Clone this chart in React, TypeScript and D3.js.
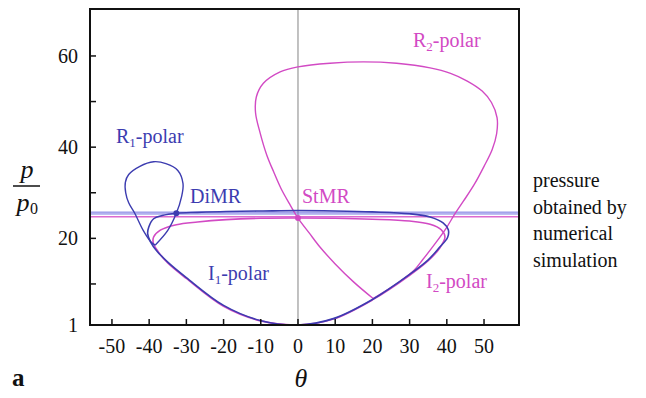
import React from 'react'
import * as d3 from 'd3'

// polar curves, [theta (deg), p/p0]
const i1Polar: [number, number][] = [
  [0, 1], [9.5, 2.4], [20, 6.6], [30, 12.1], [35, 15.3], [38, 18.0], [40.2, 20.2], [40.4, 21.9],
  [39, 23.4], [35.5, 24.7], [30, 25.4], [20, 25.8], [10, 26.0], [0, 26.1], [-10, 26.0],
  [-19.3, 25.9], [-27, 25.7], [-32.7, 25.5], [-36.5, 25.0], [-38.8, 24.3], [-40.1, 22.5],
  [-40.4, 21], [-39.6, 19.2], [-38, 17.3], [-35, 14.8], [-30, 11.4], [-20, 5.3], [-10.2, 2.0]
]

const i2Polar: [number, number][] = [
  [0, 1], [9.5, 2.3], [20, 6.5], [30, 11.9], [35, 15.1], [38.2, 18.0], [39.5, 20.3], [38.5, 21.9],
  [35.5, 23.1], [30, 23.8], [20, 24.2], [10, 24.4], [0, 24.45], [-10, 24.4], [-19.3, 24.1],
  [-27, 23.6], [-32.7, 23.0], [-37, 21.8], [-38.8, 20.3], [-38.9, 19], [-37.6, 17.1],
  [-35, 14.6], [-30, 11.2], [-20, 5.1], [-10, 1.9]
]

const r1Polar: [number, number][] = [
  [-38.4, 18.5], [-35, 21.75], [-32.7, 25.5], [-31.3, 29.1], [-30.9, 32], [-32.3, 34.9],
  [-35.5, 36.4], [-38.8, 36.8], [-42.5, 35.8], [-45.5, 34], [-46.4, 32.3], [-46.3, 30],
  [-45.5, 27.8], [-43.8, 25.4], [-41.6, 21.75], [-39.5, 19.2], [-38.4, 18.5]
]

const r2Polar: [number, number][] = [
  [20.2, 6.8], [15, 10.4], [10, 14.4], [5.9, 18.1], [3, 21.2], [0, 24.45], [-2.3, 27.6],
  [-4.6, 31], [-6.6, 34.7], [-8.4, 38.3], [-10.2, 43.2], [-11.4, 47.5], [-11.2, 51],
  [-9.3, 54], [-4.8, 56.5], [0, 57.6], [8.6, 58.4], [17.6, 58.7], [26.5, 58.4], [35.5, 57.4],
  [41, 56.2], [45.5, 54.5], [49.5, 52.3], [52, 49.8], [53.5, 46.5], [53.4, 43], [52.2, 39.5],
  [50, 35.8], [47.5, 32], [44.5, 28.2], [42.2, 25.4], [39.8, 22.2], [37, 19], [33.5, 15.3],
  [31.2, 13.0], [27, 10.3], [20.2, 6.8]
]

// numerical simulation pressure levels
const simBlue = [25.75, 25.35]
const simMagenta = [24.75]

const marks = [
  { name: 'DiMR', theta: -32.7, p: 25.5 },
  { name: 'StMR', theta: 0, p: 24.45 }
]

const xTicks = [-50, -40, -30, -20, -10, 0, 10, 20, 30, 40, 50]
const yTicks = [10, 20, 30, 40, 50, 60]
const yLabels = [1, 20, 40, 60]
const noteLines = ['pressure', 'obtained by', 'numerical', 'simulation']

const BLUE = '#3c3cb0'
const MAGENTA = '#d24ac4'
const serif = { fontFamily: 'Liberation Serif, Times New Roman, serif' }

const width = 646
const height = 398
const margin = { left: 90, right: 127, top: 9, bottom: 73 }

const App = () => {
  const x = d3.scaleLinear().domain([-55.9, 59.4]).range([margin.left, width - margin.right])
  const y = d3.scaleLinear().domain([1, 70.3]).range([height - margin.bottom, margin.top])

  const closed = d3
    .line<[number, number]>()
    .x(d => x(d[0]))
    .y(d => y(d[1]))
    .curve(d3.curveCatmullRomClosed)
  const open = d3
    .line<[number, number]>()
    .x(d => x(d[0]))
    .y(d => y(d[1]))
    .curve(d3.curveCatmullRom)

  const x0 = margin.left
  const x1 = width - margin.right
  const y0 = height - margin.bottom
  const y1 = margin.top

  return (
    <svg
      width={width}
      height={height}
      viewBox={`0,0,${width},${height}`}
      style={{ position: 'absolute', left: 0, top: 0, background: '#fff', ...serif }}
    >
      {/* theta = 0 */}
      <line x1={x(0)} x2={x(0)} y1={y1} y2={y0} stroke="#999" strokeWidth={1.2} />

      {/* simulation lines */}
      {simBlue.map((v, i) => (
        <line key={'b' + i} x1={x0} x2={x1} y1={y(v)} y2={y(v)} stroke="#7070e0" strokeWidth={1} />
      ))}
      {simMagenta.map((v, i) => (
        <line key={'m' + i} x1={x0} x2={x1} y1={y(v)} y2={y(v)} stroke="#dc6ad0" strokeWidth={1.4} />
      ))}

      <path d={closed(i2Polar) || ''} fill="none" stroke={MAGENTA} strokeWidth={1.6} />
      <path d={open(r2Polar) || ''} fill="none" stroke={MAGENTA} strokeWidth={1.4} />
      <path d={closed(i1Polar) || ''} fill="none" stroke={BLUE} strokeWidth={1.6} />
      <path d={open(r1Polar) || ''} fill="none" stroke={BLUE} strokeWidth={1.4} />

      {marks.map((m, i) => (
        <circle key={m.name} cx={x(m.theta)} cy={y(m.p)} r={3} fill={i === 0 ? BLUE : MAGENTA} />
      ))}

      {/* axes box */}
      <rect x={x0} y={y1} width={x1 - x0} height={y0 - y1} fill="none" stroke="#111" strokeWidth={2} />
      {xTicks.map(t => (
        <g key={t}>
          <line x1={x(t)} x2={x(t)} y1={y0} y2={y0 - 6} stroke="#111" strokeWidth={1.5} />
          <text x={x(t)} y={353} textAnchor="middle" fontSize={20} fill="#111" style={serif}>
            {t < 0 ? '-' + Math.abs(t) : t}
          </text>
        </g>
      ))}
      {yTicks.map(t => (
        <line key={t} x1={x0} x2={x0 + 6} y1={y(t)} y2={y(t)} stroke="#111" strokeWidth={1.5} />
      ))}
      {yLabels.map(t => (
        <text key={t} x={78} y={y(t)} dy="0.35em" textAnchor="end" fontSize={20} fill="#111" style={serif}>
          {t}
        </text>
      ))}

      {/* axis titles */}
      <text x={301} y={387} textAnchor="middle" fontSize={26} fontStyle="italic" fill="#111" style={serif}>θ</text>
      <text x={27} y={178} textAnchor="middle" fontSize={26} fontStyle="italic" fill="#111" style={serif}>p</text>
      <line x1={13} x2={40} y1={186} y2={186} stroke="#111" strokeWidth={1.5} />
      <text x={23} y={211} textAnchor="middle" fontSize={26} fontStyle="italic" fill="#111" style={serif}>p</text>
      <text x={34} y={214} textAnchor="middle" fontSize={16} fill="#111" style={serif}>0</text>
      <text x={12} y={386} fontSize={25} fontWeight="bold" fill="#111" style={serif}>a</text>

      {/* curve labels */}
      <text x={116} y={143} fontSize={20} fill={BLUE} style={serif}>
        R<tspan fontSize={13} dy={4}>1</tspan><tspan dy={-4}>-polar</tspan>
      </text>
      <text x={190} y={203} fontSize={20} fill={BLUE} style={serif}>DiMR</text>
      <text x={302} y={203} fontSize={20} fill={MAGENTA} style={serif}>StMR</text>
      <text x={208} y={280} fontSize={20} fill={BLUE} style={serif}>
        I<tspan fontSize={13} dy={4}>1</tspan><tspan dy={-4}>-polar</tspan>
      </text>
      <text x={426} y={288} fontSize={20} fill={MAGENTA} style={serif}>
        I<tspan fontSize={13} dy={4}>2</tspan><tspan dy={-4}>-polar</tspan>
      </text>
      <text x={413} y={47} fontSize={20} fill={MAGENTA} style={serif}>
        R<tspan fontSize={13} dy={4}>2</tspan><tspan dy={-4}>-polar</tspan>
      </text>

      {noteLines.map((s, i) => (
        <text key={s} x={533} y={187 + i * 26.7} fontSize={20} fill="#111" style={serif}>{s}</text>
      ))}
    </svg>
  )
}

export default App
